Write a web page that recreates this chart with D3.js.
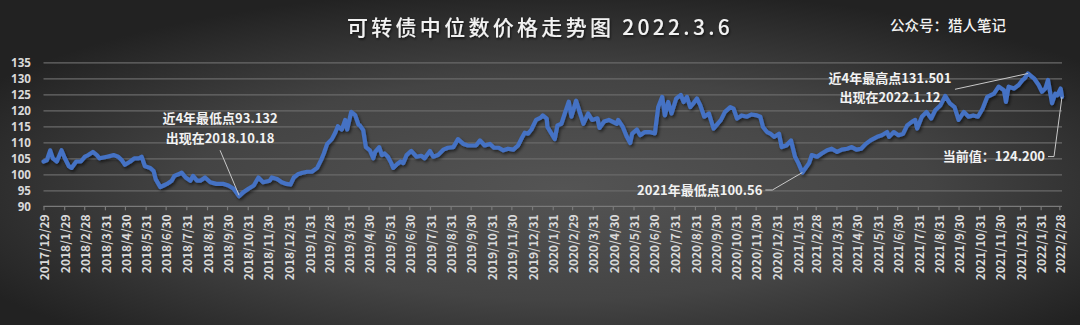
<!DOCTYPE html>
<html><head><meta charset="utf-8">
<script src="https://cdn.jsdelivr.net/npm/d3@7"></script>
<style>html,body{margin:0;padding:0;background:#333;overflow:hidden}</style>
</head><body>
<svg id="c" width="1080" height="325"></svg>
<script>
const title = "可转债中位数价格走势图 2022.3.6";
const source = "公众号：猎人笔记";

const dates = [
"2017-12-29","2018-01-03","2018-01-08","2018-01-12","2018-01-18","2018-01-25","2018-01-30","2018-02-05","2018-02-09","2018-02-16",
"2018-02-23","2018-03-01","2018-03-06","2018-03-13","2018-03-19","2018-03-23","2018-04-03","2018-04-13","2018-04-20","2018-04-25",
"2018-04-30","2018-05-08","2018-05-14","2018-05-21","2018-05-25","2018-05-30","2018-06-07","2018-06-12","2018-06-15","2018-06-22",
"2018-06-27","2018-07-02","2018-07-09","2018-07-13","2018-07-19","2018-07-24","2018-07-30","2018-08-06","2018-08-10","2018-08-16",
"2018-08-21","2018-08-28","2018-09-05","2018-09-14","2018-09-25","2018-10-02","2018-10-10","2018-10-18","2018-10-25","2018-11-01",
"2018-11-09","2018-11-16","2018-11-23","2018-12-03","2018-12-06","2018-12-14","2018-12-21","2018-12-28","2019-01-03","2019-01-08",
"2019-01-14","2019-01-21","2019-01-28","2019-02-04","2019-02-12","2019-02-18","2019-02-22","2019-02-27","2019-03-06","2019-03-11",
"2019-03-15","2019-03-21","2019-03-26","2019-03-29","2019-04-04","2019-04-10","2019-04-15","2019-04-17","2019-04-22","2019-04-26",
"2019-05-02","2019-05-07","2019-05-10","2019-05-16","2019-05-20","2019-05-24","2019-05-29","2019-06-03","2019-06-06","2019-06-11",
"2019-06-17","2019-06-21","2019-06-26","2019-07-03","2019-07-11","2019-07-18","2019-07-23","2019-07-31","2019-08-05","2019-08-12",
"2019-08-20","2019-08-27","2019-09-04","2019-09-11","2019-09-19","2019-09-26","2019-10-08","2019-10-14","2019-10-21","2019-10-29",
"2019-11-04","2019-11-11","2019-11-18","2019-11-25","2019-12-03","2019-12-10","2019-12-16","2019-12-20","2019-12-25","2019-12-30",
"2020-01-06","2020-01-13","2020-01-16","2020-01-22","2020-01-23","2020-02-03","2020-02-07","2020-02-13","2020-02-18","2020-02-24",
"2020-02-28","2020-03-06","2020-03-12","2020-03-17","2020-03-24","2020-03-30","2020-04-07","2020-04-10","2020-04-17","2020-04-24",
"2020-05-06","2020-05-08","2020-05-15","2020-05-21","2020-05-26","2020-05-29","2020-06-05","2020-06-10","2020-06-17","2020-06-24",
"2020-07-02","2020-07-07","2020-07-13","2020-07-17","2020-07-22","2020-07-27","2020-08-03","2020-08-10","2020-08-14","2020-08-19",
"2020-08-24","2020-08-28","2020-09-03","2020-09-08","2020-09-14","2020-09-21","2020-09-28","2020-10-09","2020-10-15","2020-10-23",
"2020-10-28","2020-11-02","2020-11-09","2020-11-17","2020-11-24","2020-12-02","2020-12-07","2020-12-11","2020-12-17","2020-12-22",
"2020-12-28","2021-01-04","2021-01-08","2021-01-15","2021-01-22","2021-01-28","2021-02-02","2021-02-08","2021-02-18","2021-02-22",
"2021-03-02","2021-03-09","2021-03-17","2021-03-24","2021-04-01","2021-04-08","2021-04-16","2021-04-23","2021-04-30","2021-05-07",
"2021-05-14","2021-05-21","2021-05-31","2021-06-07","2021-06-15","2021-06-18","2021-06-25","2021-07-02","2021-07-09","2021-07-15",
"2021-07-22","2021-07-27","2021-07-30","2021-08-06","2021-08-13","2021-08-20","2021-08-26","2021-09-03","2021-09-10","2021-09-17",
"2021-09-24","2021-09-30","2021-10-08","2021-10-15","2021-10-22","2021-10-29","2021-11-05","2021-11-12","2021-11-22","2021-11-29",
"2021-12-07","2021-12-10","2021-12-14","2021-12-22","2021-12-29","2022-01-04","2022-01-07","2022-01-12","2022-01-21","2022-01-28",
"2022-02-02","2022-02-07","2022-02-11","2022-02-17","2022-02-22","2022-02-25","2022-03-02","2022-03-04"
];
const values = [
104,104.4,107.5,105,104,107.5,105,102.5,102,104,
104,105.5,106,107,106,105,105.5,106,105.5,104.5,
103,104,105,105,105.5,102.5,102,101,98.5,96,
96.5,97,98,99.5,100,100.5,99,98,99.5,98,
98,99,97.5,97,97,96.5,95.5,93.132,94.5,95.5,
96.5,99,97.5,98,99,98.5,97.5,97,96.8,99,
100,100.5,100.8,100.8,102,104.5,106.5,109.5,111,113,
115,114,117,114,119.5,118.5,115.5,115.3,113.8,108.5,
107.5,105,107,108.5,106,106.5,105.5,103.5,102,103,
104,103.5,106,107.3,105.5,105.8,105,107.3,105.5,106,
107.7,108.3,108.5,111,109.5,109,109,110.6,109,109.5,
108.3,108.3,107.5,108,107.7,109,111.5,113,112.7,114,
117,117.7,118.4,117.4,114.8,111,115.3,115.8,119,122.7,
118,123,119,115.8,119,117,117.5,114.5,116.5,117,
115.8,117,114.8,111.7,109.8,112.7,114,112.2,113.2,113.2,
112.8,121,124.2,118.4,122.6,119,123.7,124.8,122.6,124.2,
121,122,123.7,121.6,118,119,114.3,117,119.5,121,
120.5,117.4,118.4,118,118.7,118.4,118,114.8,113.2,112.7,
111.7,112.7,108.5,109,110.6,105.5,103.5,100.56,103.5,106,
105.5,106.5,107.5,108,107,107.7,108,108.5,107.7,108,
109.5,110.6,111.7,112.2,113.2,111.7,113.2,112.2,112.7,115.3,
116.4,117,114.3,118,119.5,117.4,120,121.6,124.5,122.2,
121,117,119.5,118,118.4,118,120.5,124.2,125.2,127.4,
126.3,122.6,127.4,126.8,127.9,129.5,130,131.501,130,127.9,
125.8,126.8,129.5,122.2,125.2,124.7,126.8,124.2
];
const tickLabels = [
"2017/12/29","2018/1/29","2018/2/28","2018/3/31","2018/4/30","2018/5/31","2018/6/30","2018/7/31","2018/8/31","2018/9/30",
"2018/10/31","2018/11/30","2018/12/31","2019/1/31","2019/2/28","2019/3/31","2019/4/30","2019/5/31","2019/6/30","2019/7/31",
"2019/8/31","2019/9/30","2019/10/31","2019/11/30","2019/12/31","2020/1/31","2020/2/29","2020/3/31","2020/4/30","2020/5/31",
"2020/6/30","2020/7/31","2020/8/31","2020/9/30","2020/10/31","2020/11/30","2020/12/31","2021/1/31","2021/2/28","2021/3/31",
"2021/4/30","2021/5/31","2021/6/30","2021/7/31","2021/8/31","2021/9/30","2021/10/31","2021/11/30","2021/12/31","2022/1/31",
"2022/2/28"
];
const yTicks = [90,95,100,105,110,115,120,125,130,135];
const annotations = [
  {date:"2018-10-18", value:93.132, lines:["近4年最低点93.132","出现在2018.10.18"]},
  {date:"2021-02-08", value:100.56, lines:["2021年最低点100.56"]},
  {date:"2022-01-12", value:131.501, lines:["近4年最高点131.501","出现在2022.1.12"]},
  {date:"2022-03-04", value:124.2, lines:["当前值：124.200"]}
];

const W = 1080, H = 325;
const font = "'Noto Sans CJK SC','Noto Sans',sans-serif";
const numFont = "'Noto Sans','DejaVu Sans',sans-serif";
const parseD = d3.utcParse("%Y-%m-%d");
const parseT = d3.utcParse("%Y/%m/%d");
const data = dates.map((d,i)=>({date:parseD(d), value:values[i]}));

const svg = d3.select("#c");
const defs = svg.append("defs");
const rg = defs.append("radialGradient").attr("id","bg")
  .attr("cx","52%").attr("cy","58%").attr("r","62%")
  .attr("gradientUnits","objectBoundingBox");
rg.append("stop").attr("offset","0%").attr("stop-color","#545454");
rg.append("stop").attr("offset","55%").attr("stop-color","#444444");
rg.append("stop").attr("offset","100%").attr("stop-color","#222222");
const sh = defs.append("filter").attr("id","sh").attr("x","-10%").attr("y","-10%").attr("width","120%").attr("height","130%");
sh.append("feDropShadow").attr("dx",1.5).attr("dy",2).attr("stdDeviation",1.6).attr("flood-color","#000").attr("flood-opacity",0.55);
const tsh = defs.append("filter").attr("id","tsh");
tsh.append("feDropShadow").attr("dx",1).attr("dy",1.5).attr("stdDeviation",1).attr("flood-color","#000").attr("flood-opacity",0.6);

svg.append("rect").attr("width",W).attr("height",H).attr("fill","url(#bg)");

const x = d3.scaleUtc().domain([parseD("2017-12-29"), parseD("2022-03-04")]).range([43.5, 1062]);
const y = d3.scaleLinear().domain([90,135]).range([206.3, 62.3]);

// gridlines
svg.append("g").attr("transform","translate(43.5,0)")
  .call(d3.axisLeft(y).tickValues(yTicks.filter(v=>v>90)).tickSize(-(1062-43.5)).tickFormat(""))
  .call(g=>g.select(".domain").remove())
  .call(g=>g.selectAll("line").attr("stroke","#6a6a6a").attr("stroke-width",1.2));

// y labels
svg.append("g").attr("transform","translate(31,0)")
  .call(d3.axisLeft(y).tickValues(yTicks).tickSize(0).tickPadding(0))
  .call(g=>g.select(".domain").remove())
  .call(g=>g.selectAll("text").attr("fill","#d9d9d9").attr("font-size","11.6px").attr("font-weight","bold").attr("font-family",numFont));

// x axis
const tickDates = tickLabels.map(parseT);
const xa = svg.append("g").attr("transform",`translate(0,${y(90)})`)
  .call(d3.axisBottom(x).tickValues(tickDates).tickSize(4).tickFormat((d,i)=>tickLabels[i]));
xa.select(".domain").attr("stroke","#7a7a7a").attr("stroke-width",1.2).attr("d",`M43.5,0H1062`);
xa.selectAll(".tick line").attr("stroke","#7a7a7a").attr("stroke-width",1.2);
xa.selectAll("text").attr("fill","#d9d9d9").attr("font-size","12px").attr("font-weight","bold").attr("font-family",font)
  .attr("transform","rotate(-90)").attr("text-anchor","end").attr("x",-8).attr("y",1).attr("dy","0.35em");

// line
svg.append("path").datum(data)
  .attr("fill","none").attr("stroke","#4472c4").attr("stroke-width",4.2)
  .attr("stroke-linejoin","round").attr("stroke-linecap","round")
  .attr("filter","url(#sh)")
  .attr("d", d3.line().x(d=>x(d.date)).y(d=>y(d.value)));

// title
svg.append("text").attr("x",540).attr("y",35).attr("text-anchor","middle")
  .attr("fill","#f2f2f2").attr("font-size","21px").attr("font-weight","500").attr("letter-spacing","3.3px")
  .attr("font-family",font).attr("filter","url(#tsh)").text(title);
svg.append("text").attr("x",948).attr("y",31).attr("text-anchor","middle")
  .attr("fill","#f2f2f2").attr("font-size","14.5px").attr("font-weight","500")
  .attr("font-family",font).text(source);

// annotations
const aText = (px,py,anchor,s)=>svg.append("text").attr("x",px).attr("y",py).attr("text-anchor",anchor)
  .attr("fill","#f2f2f2").attr("font-size","13px").attr("font-weight","bold").attr("font-family",font).text(s);
const aLine = (pts)=>svg.append("path").attr("d",d3.line()(pts)).attr("fill","none")
  .attr("stroke","#c8c8c8").attr("stroke-width",1);

{ const a = annotations[0], px = x(parseD(a.date)), py = y(a.value);
  aText(px-19, py-73, "middle", a.lines[0]);
  aText(px-19, py-53, "middle", a.lines[1]);
  aLine([[px-19, py-46],[px, py-1]]); }
{ const a = annotations[1], px = x(parseD(a.date)), py = y(a.value);
  aText(px-40, py+22, "end", a.lines[0]);
  aLine([[px-37, py+17.5],[px-30, py+17.5],[px, py]]); }
{ const a = annotations[2], px = x(parseD(a.date)), py = y(a.value);
  aText(px-138, py+10, "middle", a.lines[0]);
  aText(px-138, py+28.5, "middle", a.lines[1]);
  aLine([[px-73, py+15.8],[px, py]]); }
{ const a = annotations[3], px = x(parseD(a.date)), py = y(a.value);
  aText(px-17, py+64, "end", a.lines[0]);
  aLine([[px-14, py+59.7],[px-8, py+59.7],[px, py]]); }
</script>
</body></html>
